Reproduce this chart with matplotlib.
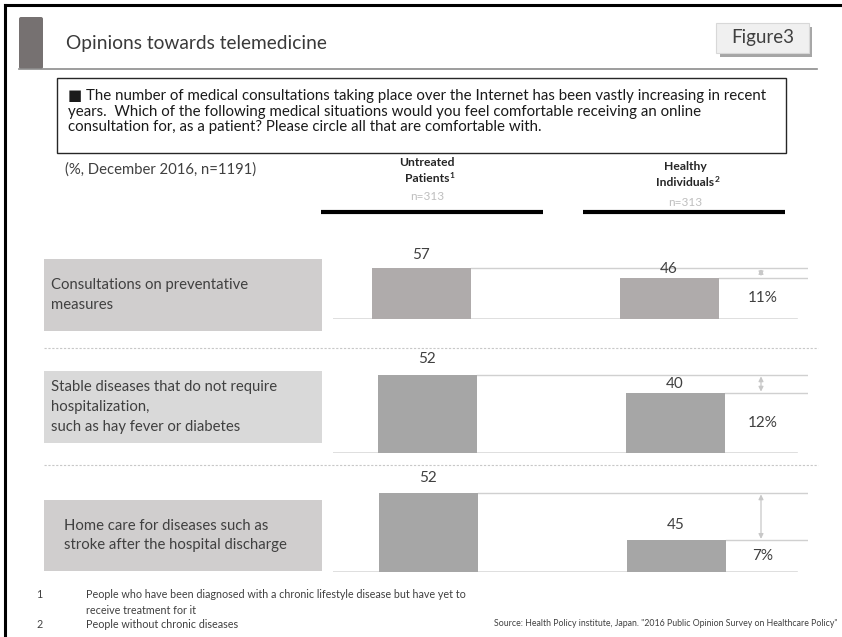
import numpy as np
import matplotlib.pyplot as plt
from matplotlib.patches import Rectangle, FancyBboxPatch

plt.rcParams['font.family'] = ['Lato', 'DejaVu Sans']

# data
categories = ["Consultations on preventative\nmeasures",
              "Stable diseases that do not require\nhospitalization,\nsuch as hay fever or diabetes",
              "Home care for diseases such as\nstroke after the hospital discharge"]
untreated = [57, 52, 52]
healthy = [46, 40, 45]
group_top = ["Untreated", "Healthy"]
group_bottom = ["Patients", "Individuals"]
group_sup = ["1", "2"]
group_n = ["n=313", "n=313"]
question = ("\u25a0 The number of medical consultations taking place over the Internet has been vastly increasing in recent\n"
            "years.  Which of the following medical situations would you feel comfortable receiving an online\n"
            "consultation for, as a patient? Please circle all that are comfortable with.")
subtitle = "(%, December 2016, n=1191)"
footnote_nums = ["1", "2"]
footnote_texts = ["People who have been diagnosed with a chronic lifestyle disease but have yet to\nreceive treatment for it",
                  "People without chronic diseases"]
source = 'Source: Health Policy institute, Japan. "2016 Public Opinion Survey on Healthcare Policy"'

W, H = 842, 637
fig = plt.figure(figsize=(W / 100, H / 100), dpi=100)
renderer = fig.canvas.get_renderer()


def fit_width(t, width):
    # scale the font so the widest line of the text is `width` pixels
    for _ in range(3):
        w = t.get_window_extent(renderer=renderer).width
        t.set_fontsize(t.get_fontsize() * width / w)
    return t.get_fontsize()


# background axes in pixel units for the slide decorations
bg = fig.add_axes([0, 0, 1, 1])
bg.set_xlim(0, W)
bg.set_ylim(H, 0)
bg.axis('off')

dark = '#404040'

# frame
bg.plot([5, W], [5, 5], color='black', lw=2.2)
bg.plot([5, 5], [5, H], color='black', lw=2.2)

# header
bg.add_patch(FancyBboxPatch((19, 17), 24, 52, boxstyle='round,pad=0,rounding_size=2',
                            fc='#767171', ec='none'))
bg.plot([19, 817], [69, 69], color='#8c8c8c', lw=1.2)
t = bg.text(66, 43, "Opinions towards telemedicine", fontsize=14, color='#3a3a3a',
            va='center', ha='left')
fit_width(t, 261)
bg.add_patch(Rectangle((720, 27), 92, 30, fc='#a6a6a6', ec='none'))
bg.add_patch(Rectangle((716, 23), 93, 30, fc='#f0f0f0', ec='#d8d8d8', lw=0.8))
t = bg.text(763, 38, "Figure3", fontsize=12, color=dark, va='center', ha='center')
fit_width(t, 63)

# question box
bg.add_patch(Rectangle((57, 78), 729, 75, fc='white', ec='#262626', lw=1))
t = bg.text(68, 89, question, fontsize=11, color='#1a1a1a', va='top', ha='left',
            linespacing=1.15)
fit_width(t, 695)
t = bg.text(65, 170, subtitle, fontsize=10.6, color=dark, va='center', ha='left')
fit_width(t, 192)

# column headers
col_x = [427, 685]
col_y = [163, 167]
n_y = [197, 202]
line_span = [(321, 543), (583, 785)]
for k in range(2):
    cx, cy = col_x[k], col_y[k]
    bg.text(cx, cy, group_top[k], fontsize=8.7, fontweight='bold', color='#262626',
            ha='center', va='center')
    t2 = bg.text(cx, cy + 16, group_bottom[k], fontsize=8.7, fontweight='bold',
                 color='#262626', ha='center', va='center')
    w2 = t2.get_window_extent(renderer=renderer).width
    bg.text(cx + w2 / 2 + 0.5, cy + 13, group_sup[k], fontsize=6, fontweight='bold',
            color='#262626', ha='left', va='center')
    bg.text(cx, n_y[k], group_n[k], fontsize=8.5, color='#bfbfbf', ha='center', va='center')
    bg.plot(line_span[k], [212, 212], color='black', lw=3, solid_capstyle='butt')

# panel layout (pixels): label box top/bottom, baseline, px per unit, axis floor
boxes = [(259, 331), (371, 443), (500, 571)]
baselines = [319, 453, 572]
px_per_unit = [0.9, 1.5, 6.75]
floors = [0, 0, 40.3]
centers = [421, 427, 428]
bar_colors = ['#afabab', '#a6a6a6', '#a6a6a6']
box_colors = ['#d0cece', '#d9d9d9', '#d0cece']
text_x = [51, 51, 64]
label_off = [(13, 9), (16, 9), (15, 15)]
spacing = 248
x_left, x_right = 333, 808
ax_h = 120
cat_size = None

for i in range(3):
    # category label box
    t, b = boxes[i]
    bg.add_patch(Rectangle((44, t), 278, b - t, fc=box_colors[i], ec='none'))
    txt = bg.text(text_x[i], (t + b) / 2, categories[i], fontsize=10.6, color=dark,
                  ha='left', va='center', linespacing=1.5)
    if cat_size is None:
        cat_size = fit_width(txt, 197)
    txt.set_fontsize(cat_size)

    # bar axes positioned so that the baseline sits at the right pixel row
    base = baselines[i]
    ax = fig.add_axes([x_left / W, (H - base) / H, (x_right - x_left) / W, ax_h / H])
    ax.set_ylim(floors[i], floors[i] + ax_h / px_per_unit[i])
    xl = -(centers[i] - x_left) / spacing
    xr = xl + (x_right - x_left) / spacing
    ax.set_xlim(xl, xr)
    ax.axis('off')

    vals = [untreated[i], healthy[i]]
    bw = 99 / spacing
    ax.bar([0, 1], vals, width=bw, color=bar_colors[i], zorder=3)
    ax.axhline(floors[i], xmin=0, xmax=(797 - x_left) / (x_right - x_left),
               color='#d9d9d9', lw=1.2, zorder=2)
    # guide lines at the top of each bar
    ax.plot([bw / 2, xr], [vals[0], vals[0]], color='#d0d0d0', lw=1, zorder=2)
    ax.plot([1 + bw / 2, xr], [vals[1], vals[1]], color='#d0d0d0', lw=1, zorder=2)
    for j, v in enumerate(vals):
        ax.annotate(str(v), (j, v), xytext=(0, label_off[i][j]), textcoords='offset pixels',
                    ha='center', va='center', fontsize=11, color=dark)

    # gap arrow and difference
    arr_x = 1 + (761 - centers[i] - spacing) / spacing
    ax.annotate('', xy=(arr_x, vals[1]), xytext=(arr_x, vals[0]),
                arrowprops=dict(arrowstyle='<|-|>', color='#c8c8c8', lw=0.9,
                                mutation_scale=7, shrinkA=1, shrinkB=1))
    ax.text(arr_x + 0.005, (max(floors[i], 0) + vals[1]) / 2, f"{vals[0] - vals[1]}%",
            ha='center', va='center', fontsize=11, color=dark)

# dashed separators
for y in [348, 465]:
    bg.plot([44, 818], [y, y], color='#c8c8c8', lw=0.8, ls=(0, (2, 1.5)))

# footnotes
foot_y = [589, 619]
foot_size = None
for num, txt, fy in zip(footnote_nums, footnote_texts, foot_y):
    bg.text(36, fy, num, fontsize=7.7, color=dark, ha='left', va='top')
    ft = bg.text(86, fy, txt, fontsize=7.7, color=dark, ha='left', va='top', linespacing=1.55)
    if foot_size is None:
        foot_size = fit_width(ft, 379)
    ft.set_fontsize(foot_size)
bg.text(838, 623, source, fontsize=6.3, color=dark, ha='right', va='center')

fig.savefig('out.png', dpi=100)
